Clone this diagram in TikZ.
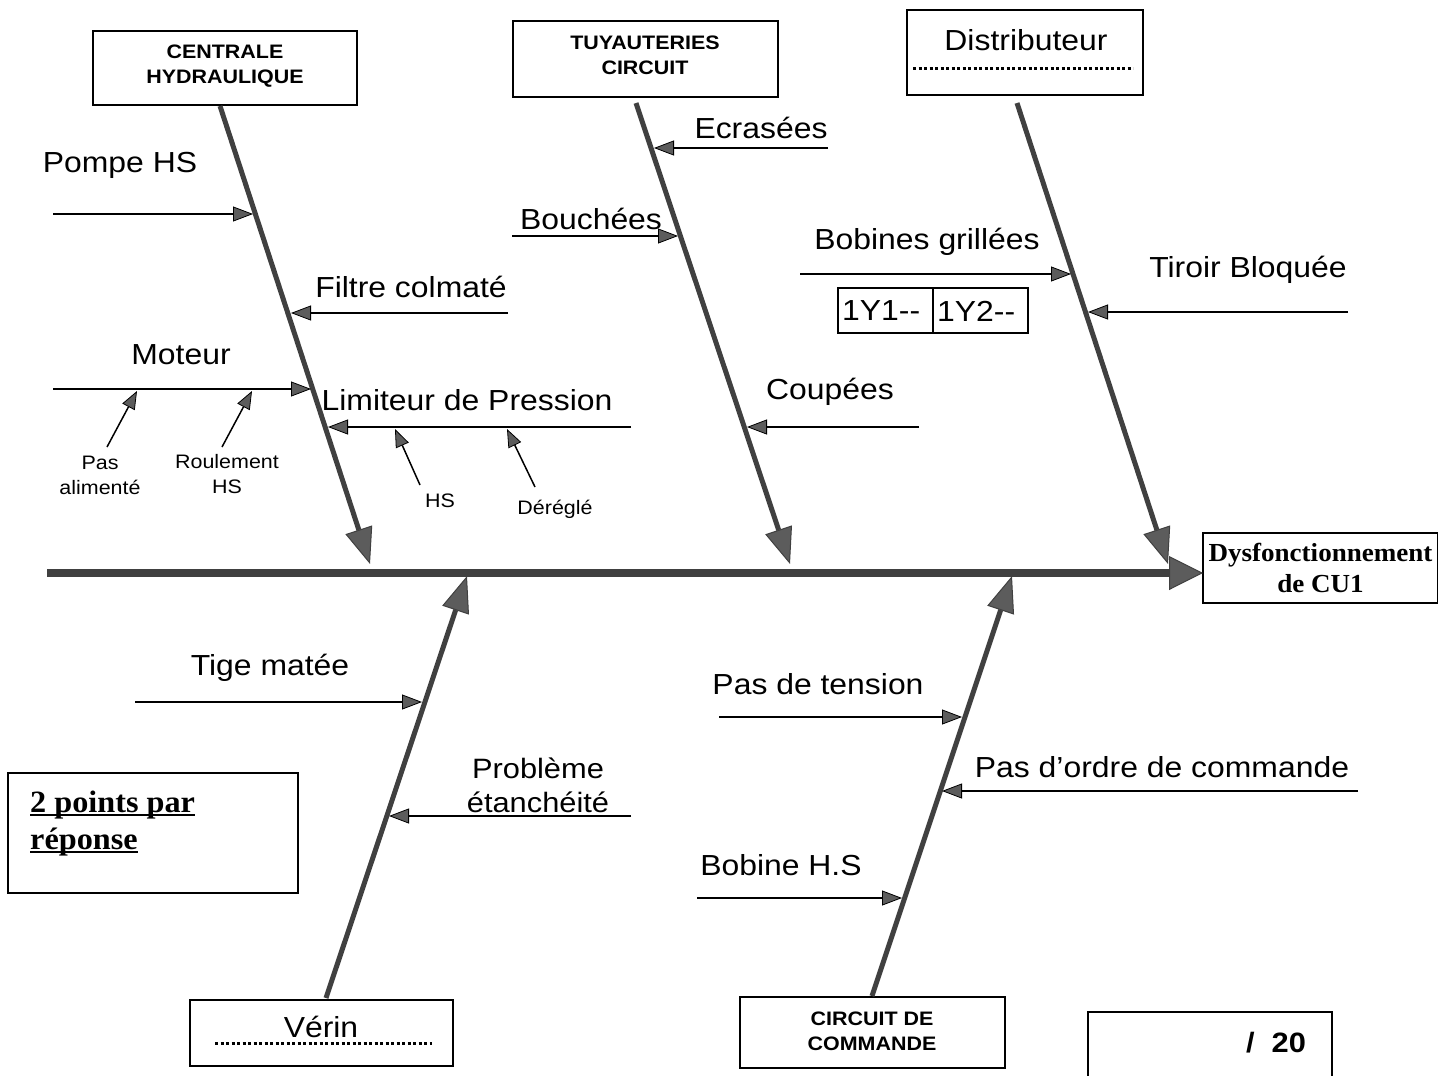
\documentclass[tikz,border=0pt]{standalone}
\usepackage{fontspec}
\setmainfont[FakeStretch=1.1]{Liberation Sans}
\newfontfamily\serifbold[FakeStretch=1.04]{Liberation Serif}
\usetikzlibrary{arrows.meta,calc}
\definecolor{bonegray}{gray}{0.25}
\definecolor{headgray}{gray}{0.36}
\newcommand{\thickul}[1]{\setbox0=\hbox{#1}\rlap{\rule[-4pt]{\wd0}{2pt}}\box0}
\tikzset{
  boxframe/.style={draw, line width=1.5pt, inner sep=0pt},
  lbl/.style={inner sep=0pt, font=\fontsize{29}{35}\selectfont},
  smalllbl/.style={inner sep=0pt, align=center, font=\fontsize{19.5}{25}\selectfont},
  boxlbl/.style={inner sep=0pt, align=center, font=\fontsize{19.5}{25}\selectfont\bfseries},
  bone/.style={line width=5pt, draw=bonegray, -{Triangle[length=36pt,width=28pt,line width=1pt,fill=headgray]}},
  spine/.style={line width=8pt, draw=bonegray, -{Triangle[length=34pt,width=34pt,line width=1pt,fill=headgray]}},
  sub/.style={line width=1.8pt, draw=black, -{Triangle[length=20pt,width=15pt,line width=0.8pt,fill=headgray]}},
  subsub/.style={line width=1.5pt, draw=black, -{Triangle[length=18pt,width=14pt,line width=0.8pt,fill=headgray]}},
  dotline/.style={line width=3pt, dash pattern=on 3pt off 2.5pt},
}
\begin{document}
\begin{tikzpicture}[x=1pt,y=-1pt]
\useasboundingbox (0,0) rectangle (1438,1076);

% ---------- boxes ----------
\node[boxframe, minimum width=264pt, minimum height=74pt] (ch) at (225,68) {};
\node[boxlbl] (chtxt) at (225,66) {CENTRALE\\HYDRAULIQUE};

\node[boxframe, minimum width=265pt, minimum height=76pt] (tc) at (645.5,59) {};
\node[boxlbl] (tctxt) at (645,55.5) {TUYAUTERIES\\CIRCUIT};

\node[boxframe, minimum width=236pt, minimum height=85pt] (dist) at (1025,52.5) {};
\node[lbl] (disttxt) at (1026,40) {Distributeur};
\coordinate (distdA) at (913,68);
\coordinate (distdB) at (1133,68);
\draw[dotline] (distdA) -- (distdB);

\node[boxframe, minimum width=263pt, minimum height=66pt] (verin) at (321.5,1033) {};
\node[lbl] (verintxt) at (321,1027) {Vérin};
\coordinate (verdA) at (215,1043);
\coordinate (verdB) at (432,1043);
\draw[dotline] (verdA) -- (verdB);

\node[boxframe, minimum width=265pt, minimum height=71pt] (cc) at (872.5,1032.5) {};
\node[boxlbl] (cctxt) at (872,1031.5) {CIRCUIT DE\\COMMANDE};

\node[boxframe, minimum width=235pt, minimum height=70pt, align=center,
      font=\fontsize{26}{31}\selectfont\serifbold\bfseries] (dys) at (1320.5,568) {Dysfonctionnement\\de CU1};

\node[boxframe, minimum width=290pt, minimum height=120pt] (pts) at (153,833) {};
\node[inner sep=0pt, anchor=west, font=\fontsize{31}{36}\selectfont\serifbold\bfseries] (pts1) at (30,805) {\thickul{2 points par}};
\node[inner sep=0pt, anchor=west, font=\fontsize{31}{36}\selectfont\serifbold\bfseries] (pts2) at (30,842) {\thickul{réponse}};

\coordinate (noteA) at (1088,1080);
\coordinate (noteB) at (1088,1012);
\coordinate (noteC) at (1332,1012);
\coordinate (noteD) at (1332,1080);
\draw[line width=2pt] (noteA) -- (noteB) -- (noteC) -- (noteD);
\node[inner sep=0pt, font=\fontsize{28}{32}\selectfont\bfseries] (note) at (1276,1043) {/\ \ 20};

% ---------- spine ----------
\coordinate (spS) at (47,573);
\coordinate (spE) at (1203,573);
\draw[spine] (spS) -- (spE);

% ---------- bones ----------
\coordinate (chS) at (220,106);  \coordinate (chE) at (370,564);
\coordinate (tcS) at (636,103);  \coordinate (tcE) at (790,564);
\coordinate (dS) at (1017,103);  \coordinate (dE) at (1168,564);
\coordinate (vS) at (326,998);   \coordinate (vE) at (467,576);
\coordinate (cS) at (872,996);   \coordinate (cE) at (1012,576);
\draw[bone] (chS) -- (chE);
\draw[bone] (tcS) -- (tcE);
\draw[bone] (dS) -- (dE);
\draw[bone] (vS) -- (vE);
\draw[bone] (cS) -- (cE);

% ---------- CENTRALE HYDRAULIQUE causes ----------
\node[lbl] (pompe) at (120,165) {Pompe HS};
\coordinate (pompeS) at (53,214); \coordinate (pompeT) at (253,214);
\draw[sub] (pompeS) -- (pompeT);

\node[lbl] (filtre) at (411,287) {Filtre colmaté};
\coordinate (filtreS) at (508,313); \coordinate (filtreT) at (291,313);
\draw[sub] (filtreS) -- (filtreT);

\node[lbl] (moteur) at (181,355) {Moteur};
\coordinate (moteurS) at (53,389); \coordinate (moteurT) at (311,389);
\draw[sub] (moteurS) -- (moteurT);

\node[smalllbl] (pasal) at (100,475) {Pas\\alimenté};
\node[smalllbl] (roul) at (227,474) {Roulement\\HS};
\coordinate (pasalS) at (107,447); \coordinate (pasalT) at (137,391);
\coordinate (roulS) at (222,447); \coordinate (roulT) at (252,391);
\draw[subsub] (pasalS) -- (pasalT);
\draw[subsub] (roulS) -- (roulT);

\node[lbl] (limit) at (467,400) {Limiteur de Pression};
\coordinate (limitS) at (631,427); \coordinate (limitT) at (328,427);
\draw[sub] (limitS) -- (limitT);

\node[smalllbl] (hs) at (440,501) {HS};
\node[smalllbl] (deregle) at (555,509) {Déréglé};
\coordinate (hsS) at (420,485); \coordinate (hsT) at (395,429);
\coordinate (derS) at (535,487); \coordinate (derT) at (507,429);
\draw[subsub] (hsS) -- (hsT);
\draw[subsub] (derS) -- (derT);

% ---------- TUYAUTERIES causes ----------
\node[lbl] (ecras) at (761,128) {Ecrasées};
\coordinate (ecrasS) at (828,148); \coordinate (ecrasT) at (654,148);
\draw[sub] (ecrasS) -- (ecrasT);

\node[lbl] (bouch) at (591,219) {Bouchées};
\coordinate (bouchS) at (512,236); \coordinate (bouchT) at (678,236);
\draw[sub] (bouchS) -- (bouchT);

\node[lbl] (coup) at (830,392) {Coupées};
\coordinate (coupS) at (919,427); \coordinate (coupT) at (747,427);
\draw[sub] (coupS) -- (coupT);

% ---------- Distributeur causes ----------
\node[lbl] (bob) at (927,242) {Bobines grillées};
\coordinate (bobS) at (800,274); \coordinate (bobT) at (1071,274);
\draw[sub] (bobS) -- (bobT);

\node[boxframe, minimum width=95pt, minimum height=45pt] (y1) at (885.5,310.5) {};
\node[boxframe, minimum width=95pt, minimum height=45pt] (y2) at (980.5,310.5) {};
\node[lbl, anchor=west] (y1txt) at (842,311) {1Y1-{}-};
\node[lbl, anchor=west] (y2txt) at (937,311) {1Y2-{}-};

\node[lbl] (tiroir) at (1248,270) {Tiroir Bloquée};
\coordinate (tiroirS) at (1348,312); \coordinate (tiroirT) at (1088,312);
\draw[sub] (tiroirS) -- (tiroirT);

% ---------- Vérin causes ----------
\node[lbl] (tige) at (270,668) {Tige matée};
\coordinate (tigeS) at (135,702); \coordinate (tigeT) at (422,702);
\draw[sub] (tigeS) -- (tigeT);

\node[lbl, align=center, font=\fontsize{28}{34}\selectfont] (prob) at (538,785) {Problème\\étanchéité};
\coordinate (probS) at (631,816); \coordinate (probT) at (389,816);
\draw[sub] (probS) -- (probT);

% ---------- Circuit de commande causes ----------
\node[lbl] (tension) at (818,684) {Pas de tension};
\coordinate (tensionS) at (719,717); \coordinate (tensionT) at (962,717);
\draw[sub] (tensionS) -- (tensionT);

\node[lbl] (ordre) at (1162,767) {Pas d’ordre de commande};
\coordinate (ordreS) at (1358,791); \coordinate (ordreT) at (942,791);
\draw[sub] (ordreS) -- (ordreT);

\node[lbl] (bobhs) at (781,865) {Bobine H.S};
\coordinate (bobhsS) at (697,898); \coordinate (bobhsT) at (902,898);
\draw[sub] (bobhsS) -- (bobhsT);
\end{tikzpicture}
\end{document}
